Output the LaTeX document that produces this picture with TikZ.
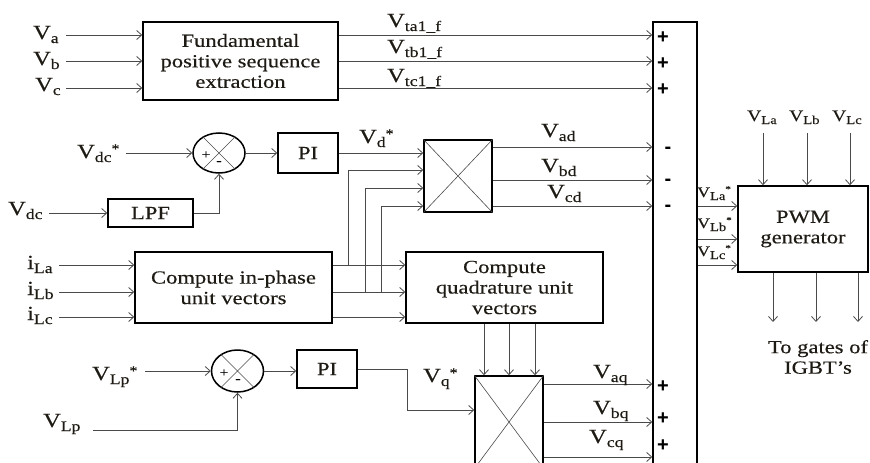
\documentclass[tikz,border=0pt]{standalone}
\usepackage{fontspec}
\setmainfont[FakeStretch=1.22,FakeBold=0.35]{Liberation Serif}
\newfontfamily\signfont{Liberation Sans}
\usetikzlibrary{arrows.meta,shapes.geometric}
\definecolor{ln}{HTML}{4A4A4A}
\definecolor{tx}{HTML}{1E1A14}
\newcommand{\lsub}[1]{\raisebox{-4pt}{\fontsize{14.5}{14.5}\selectfont #1}}
\newcommand{\lst}{\raisebox{5pt}{\fontsize{13}{13}\selectfont *}}
\newcommand{\ssub}[1]{\raisebox{-3pt}{\fontsize{12}{12}\selectfont #1}}
\newcommand{\sst}{\raisebox{5pt}{\fontsize{9}{9}\selectfont *}}
\begin{document}
\begin{tikzpicture}[x=1pt,y=-1pt,
  box/.style={draw=black,line width=1.5pt,inner sep=0pt,align=center,text=tx,
    font=\fontsize{18.5}{20.5}\selectfont},
  sumnode/.style={draw=black,line width=1.5pt,ellipse,inner sep=0pt,minimum width=52pt},
  arr/.style={draw=ln,line width=0.8pt,-{Straight Barb[length=5pt,width=9pt]}},
  wire/.style={draw=ln,line width=0.8pt},
  crossl/.style={draw=ln,line width=0.6pt},
  lab/.style={anchor=base west,inner sep=0pt,text=tx,font=\fontsize{20}{20}\selectfont},
  slab/.style={anchor=base west,inner sep=0pt,text=tx,font=\fontsize{16}{16}\selectfont},
  tlab/.style={anchor=base west,inner sep=0pt,text=tx,font=\fontsize{14.5}{14.5}\selectfont},
  sgn/.style={inner sep=0pt,font=\signfont\bfseries\fontsize{20}{20}\selectfont},
  isgn/.style={inner sep=0pt,font=\fontsize{13}{13}\selectfont}]
\useasboundingbox (0,0) rectangle (870,463);
\begin{scope}
\clip (0,0) rectangle (870,463);
% blocks
\node[box,minimum width=195pt,minimum height=78pt] (fund) at (240.5,61) {Fundamental\\positive sequence\\extraction};
\node[box,minimum width=44pt,minimum height=460pt] (big) at (675,252) {};
\node[box,minimum width=60pt,minimum height=40pt] (pi1) at (308,153) {PI};
\node[box,minimum width=85pt,minimum height=28pt] (lpf) at (150.5,213) {LPF};
\node[sumnode,minimum height=40pt] (sum1) at (219,153) {};
\node[box,minimum width=68pt,minimum height=72pt] (mul1) at (458,176) {};
\node[box,minimum width=197pt,minimum height=71pt] (inph) at (233.5,287.5) {Compute in-phase\\unit vectors};
\node[box,minimum width=197pt,minimum height=71pt] (quad) at (504.5,287.5) {Compute\\quadrature unit\\vectors};
\node[sumnode,minimum height=42pt] (sum2) at (237.5,371) {};
\node[box,minimum width=60pt,minimum height=38pt] (pi2) at (327,369) {PI};
\node[box,minimum width=68pt,minimum height=92pt] (mul2) at (509,422) {};
\node[box,minimum width=130pt,minimum height=86pt] (pwm) at (803,229) {PWM\\generator};
% crosses
\draw[crossl] (mul1.north west) -- (mul1.south east) (mul1.north east) -- (mul1.south west);
\draw[crossl] (mul2.north west) -- (mul2.south east) (mul2.north east) -- (mul2.south west);
\draw[crossl] (sum1.45) -- (sum1.225) (sum1.135) -- (sum1.315);
\draw[crossl] (sum2.45) -- (sum2.225) (sum2.135) -- (sum2.315);
\node[isgn] (s1p) at (206,155) {+};
\node[isgn] (s1m) at (219,163) {-};
\node[isgn] (s2p) at (224,373) {+};
\node[isgn] (s2m) at (238,381) {-};
% inputs to fundamental
\coordinate (ia) at (66,35);
\coordinate (ib) at (66,61);
\coordinate (ic) at (66,88);
\draw[arr] (ia) -- (ia -| fund.west);
\draw[arr] (ib) -- (ib -| fund.west);
\draw[arr] (ic) -- (ic -| fund.west);
\draw[arr] (fund.east |- ia) -- (big.west |- ia);
\draw[arr] (fund.east |- ib) -- (big.west |- ib);
\draw[arr] (fund.east |- ic) -- (big.west |- ic);
% dc loop
\coordinate (vdcs) at (126,153);
\coordinate (vdc) at (49,213);
\draw[arr] (vdcs) -- (sum1.west);
\draw[arr] (vdc) -- (vdc -| lpf.west);
\draw[arr] (lpf.east) -| (sum1.south);
\draw[arr] (sum1.east) -- (sum1.east -| pi1.west);
\draw[arr] (pi1.east) -- (pi1.east -| mul1.west);
% in-phase
\coordinate (la) at (59,265);
\coordinate (lb) at (59,292);
\coordinate (lc) at (59,317);
\draw[arr] (la) -- (la -| inph.west);
\draw[arr] (lb) -- (lb -| inph.west);
\draw[arr] (lc) -- (lc -| inph.west);
\draw[arr] (inph.east |- la) -- (quad.west |- la);
\draw[arr] (inph.east |- lb) -- (quad.west |- lb);
\draw[arr] (inph.east |- lc) -- (quad.west |- lc);
\coordinate (br1) at (348,265);
\coordinate (br2) at (365,292);
\coordinate (br3) at (381.5,292);
\draw[arr] (br1) |- (mul1.west |- {(0,170)});
\draw[arr] (br2) |- (mul1.west |- {(0,188)});
\draw[arr] (br3) |- (mul1.west |- {(0,206)});
% d outputs
\draw[arr] (mul1.east |- {(0,147)}) -- (big.west |- {(0,147)});
\draw[arr] (mul1.east |- {(0,180)}) -- (big.west |- {(0,180)});
\draw[arr] (mul1.east |- {(0,206)}) -- (big.west |- {(0,206)});
% quadrature to mul2
\draw[arr] (quad.south -| {(484,0)}) -- (mul2.north -| {(484,0)});
\draw[arr] (quad.south -| {(509,0)}) -- (mul2.north -| {(509,0)});
\draw[arr] (quad.south -| {(535,0)}) -- (mul2.north -| {(535,0)});
% Lp loop
\coordinate (vlps) at (145,371);
\coordinate (vlp) at (93,430);
\draw[arr] (vlps) -- (sum2.west);
\draw[arr] (vlp) -| (sum2.south);
\draw[arr] (sum2.east) -- (sum2.east -| pi2.west);
\draw[arr] (pi2.east) -- ++(50,0) |- (mul2.west |- {(0,410)});
% q outputs
\draw[arr] (mul2.east |- {(0,384)}) -- (big.west |- {(0,384)});
\draw[arr] (mul2.east |- {(0,422)}) -- (big.west |- {(0,422)});
\draw[arr] (mul2.east |- {(0,457)}) -- (big.west |- {(0,457)});
% to PWM
\draw[arr] (big.east |- {(0,206)}) -- (pwm.west |- {(0,206)});
\draw[arr] (big.east |- {(0,239)}) -- (pwm.west |- {(0,239)});
\draw[arr] (big.east |- {(0,265)}) -- (pwm.west |- {(0,265)});
\coordinate (tla) at (763,133);
\coordinate (tlb) at (807,133);
\coordinate (tlc) at (850,133);
\draw[arr] (tla) -- (tla |- pwm.north);
\draw[arr] (tlb) -- (tlb |- pwm.north);
\draw[arr] (tlc) -- (tlc |- pwm.north);
\coordinate (ga) at (773,322);
\coordinate (gb) at (816,322);
\coordinate (gc) at (858,322);
\draw[arr] (pwm.south -| ga) -- (ga);
\draw[arr] (pwm.south -| gb) -- (gb);
\draw[arr] (pwm.south -| gc) -- (gc);
% signs
\node[sgn] (p1) at (663,38) {+};
\node[sgn] (p2) at (663,64) {+};
\node[sgn] (p3) at (663,90) {+};
\node[sgn] (m1) at (668,150) {-};
\node[sgn] (m2) at (668,182) {-};
\node[sgn] (m3) at (668,208) {-};
\node[sgn] (p4) at (663,387) {+};
\node[sgn] (p5) at (663,419) {+};
\node[sgn] (p6) at (663,446) {+};
% labels
\node[lab] (tVa) at (33,39) {V\lsub{a}};
\node[lab] (tVb) at (33,65) {V\lsub{b}};
\node[lab] (tVc) at (35,91) {V\lsub{c}};
\node[lab] (tVta) at (387,27) {V\lsub{ta1\_f}};
\node[lab] (tVtb) at (387,53) {V\lsub{tb1\_f}};
\node[lab] (tVtc) at (387,82) {V\lsub{tc1\_f}};
\node[lab] (tVdcs) at (77,158) {V\lsub{dc}\lst};
\node[lab] (tVdc) at (8,215) {V\lsub{dc}};
\node[lab] (tVds) at (359,143) {V\lsub{d}\lst};
\node[lab] (tVad) at (541,137) {V\lsub{ad}};
\node[lab] (tVbd) at (541,172) {V\lsub{bd}};
\node[lab] (tVcd) at (547,198) {V\lsub{cd}};
\node[lab] (tiLa) at (27,269) {i\lsub{La}};
\node[lab] (tiLb) at (27,295) {i\lsub{Lb}};
\node[lab] (tiLc) at (27,320) {i\lsub{Lc}};
\node[lab] (tVLps) at (92,380) {V\lsub{Lp}\lst};
\node[lab] (tVLp) at (43,427) {V\lsub{Lp}};
\node[lab] (tVqs) at (423,382) {V\lsub{q}\lst};
\node[lab] (tVaq) at (593,378) {V\lsub{aq}};
\node[lab] (tVbq) at (593,414) {V\lsub{bq}};
\node[lab] (tVcq) at (589,443) {V\lsub{cq}};
\node[slab] (tVLa) at (747,121) {V\ssub{La}};
\node[slab] (tVLb) at (789,121) {V\ssub{Lb}};
\node[slab] (tVLc) at (832,121) {V\ssub{Lc}};
\node[tlab] (tVLas) at (697,197) {V\ssub{La}\sst};
\node[tlab] (tVLbs) at (697,228) {V\ssub{Lb}\sst};
\node[tlab] (tVLcs) at (697,256) {V\ssub{Lc}\sst};
\node[align=center,inner sep=0pt,text=tx,font=\fontsize{18.5}{20.5}\selectfont] (gates) at (818,357) {To gates of\\IGBT’s};
\end{scope}
\end{tikzpicture}
\end{document}
